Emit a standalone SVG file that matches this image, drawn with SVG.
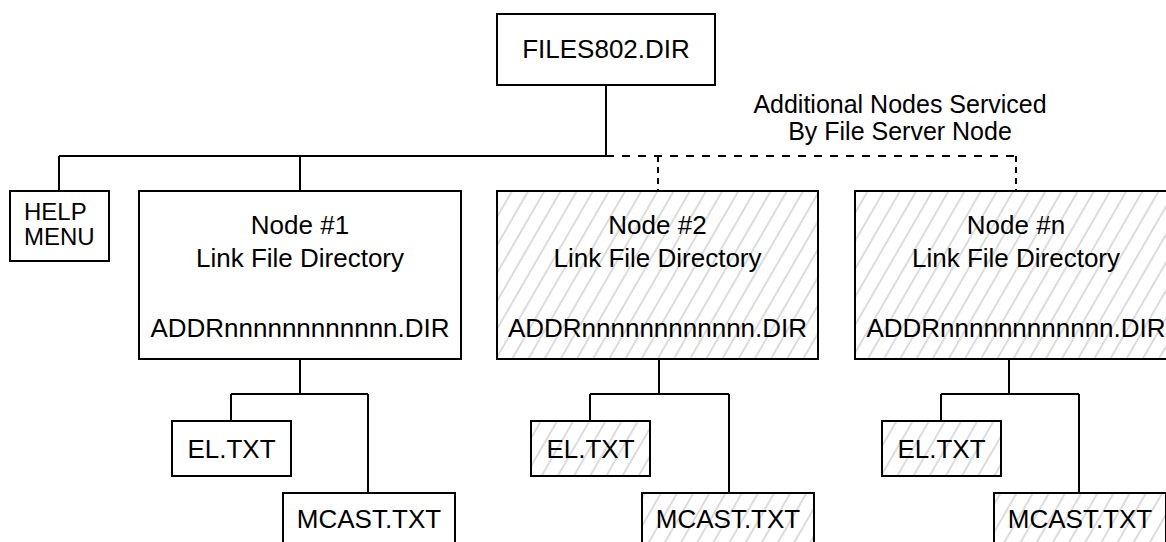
<svg xmlns="http://www.w3.org/2000/svg" width="1166" height="542" viewBox="0 0 1166 542">
<style>
.box{fill:#fff;stroke:#000;stroke-width:2}
.hat{fill:url(#hatch);stroke:#000;stroke-width:2}
.ln{fill:none;stroke:#000;stroke-width:2}
.dh{fill:none;stroke:#000;stroke-width:2;stroke-dasharray:8 8}
.dv{fill:none;stroke:#000;stroke-width:2;stroke-dasharray:6 5}
text{font-family:"Liberation Sans",Arial,Helvetica,sans-serif;font-size:26px;fill:#000}
.c{text-anchor:middle}
.s{font-size:24px}
.m{font-size:25px}
</style>
<defs>
<pattern id="hatch" patternUnits="userSpaceOnUse" width="14" height="14" patternTransform="rotate(30)">
<rect width="14" height="14" fill="#fff"/>
<line x1="7" y1="-1" x2="7" y2="15" stroke="#dcdcdc" stroke-width="2"/>
</pattern>
</defs>
<g id="connectors">
<path class="ln" d="M606 85V156M59 156H606M59 156V191M300 156V191"/>
<path class="dh" d="M606 156H1016"/>
<path class="dv" d="M658 156V191M1016 156V191"/>
<path class="ln" d="M300 359V394M231 394H368M231 394V421M368 394V493"/>
<path class="ln" d="M659 359V394M590 394H729M590 394V421M729 394V493"/>
<path class="ln" d="M1009 359V394M941 394H1079M941 394V421M1079 394V493"/>
</g>
<g id="files802">
<rect class="box" x="497" y="14" width="218" height="71"/>
<text class="c" x="606" y="58">FILES802.DIR</text>
</g>
<g id="additional-label">
<text class="c m" x="900" y="113">Additional Nodes Serviced</text>
<text class="c m" x="900" y="140">By File Server Node</text>
</g>
<g id="help-menu">
<rect class="box" x="10" y="191" width="99" height="70"/>
<text class="s" x="24" y="220">HELP</text>
<text class="s" x="24" y="245">MENU</text>
</g>
<g id="node1">
<rect class="box" x="139" y="191" width="322" height="168"/>
<text class="c" x="300" y="234">Node #1</text>
<text class="c" x="300" y="267">Link File Directory</text>
<text class="c" x="300" y="337">ADDRnnnnnnnnnnnn.DIR</text>
</g>
<g id="node1-el">
<rect class="box" x="172" y="421" width="119" height="55"/>
<text class="c" x="231.5" y="458">EL.TXT</text>
</g>
<g id="node1-mcast">
<rect class="box" x="283" y="493" width="172" height="60"/>
<text class="c" x="369" y="528">MCAST.TXT</text>
</g>
<g id="node2">
<rect class="hat" x="497" y="191" width="321" height="168"/>
<text class="c" x="657.5" y="234">Node #2</text>
<text class="c" x="657.5" y="267">Link File Directory</text>
<text class="c" x="657.5" y="337">ADDRnnnnnnnnnnnn.DIR</text>
</g>
<g id="node2-el">
<rect class="hat" x="531" y="421" width="119" height="55"/>
<text class="c" x="590.5" y="458">EL.TXT</text>
</g>
<g id="node2-mcast">
<rect class="hat" x="642" y="493" width="172" height="60"/>
<text class="c" x="728" y="528">MCAST.TXT</text>
</g>
<g id="noden">
<rect class="hat" x="855" y="191" width="322" height="168"/>
<text class="c" x="1016" y="234">Node #n</text>
<text class="c" x="1016" y="267">Link File Directory</text>
<text class="c" x="1016" y="337">ADDRnnnnnnnnnnnn.DIR</text>
</g>
<g id="noden-el">
<rect class="hat" x="882" y="421" width="119" height="55"/>
<text class="c" x="941.5" y="458">EL.TXT</text>
</g>
<g id="noden-mcast">
<rect class="hat" x="994" y="493" width="172" height="60"/>
<text class="c" x="1080" y="528">MCAST.TXT</text>
</g>
</svg>
